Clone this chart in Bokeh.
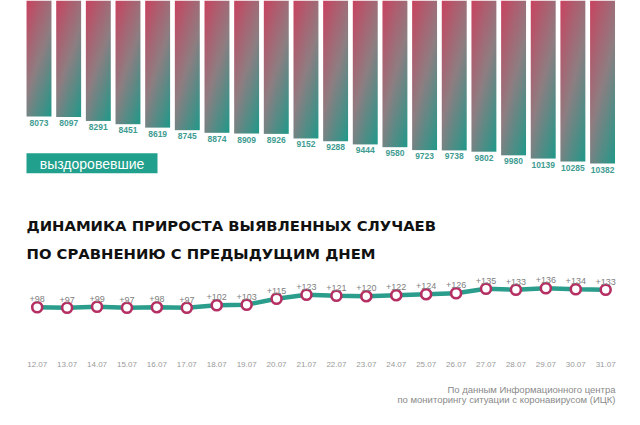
import numpy as np
from bokeh.plotting import figure
from bokeh.models import Range1d, Label, BoxAnnotation, ColumnDataSource
from bokeh.core.properties import value
from bokeh.embed import file_html
from bokeh.resources import INLINE

# ---------------- data ----------------
recovered = [8073, 8097, 8291, 8451, 8619, 8745, 8874, 8909, 8926, 9152,
             9288, 9444, 9580, 9723, 9738, 9802, 9980, 10139, 10285, 10382]
dates = ["12.07", "13.07", "14.07", "15.07", "16.07", "17.07", "18.07", "19.07",
         "20.07", "21.07", "22.07", "23.07", "24.07", "25.07", "26.07", "27.07",
         "28.07", "29.07", "30.07", "31.07"]
growth = [98, 97, 99, 97, 98, 97, 102, 103, 115, 123,
          121, 120, 122, 124, 126, 135, 133, 136, 134, 133]
bar_legend = "выздоровевшие"
title_lines = ["ДИНАМИКА ПРИРОСТА ВЫЯВЛЕННЫХ СЛУЧАЕВ",
               "ПО СРАВНЕНИЮ С ПРЕДЫДУЩИМ ДНЕМ"]
source_lines = ["По данным Информационного центра",
                "по мониторингу ситуации с коронавирусом (ИЦК)"]

# ---------------- layout ----------------
W, H = 624, 409
X0, X1 = -1.298, 19.74
Y_BOT, Y_TOP = 22467.0, 2374.0
LX0, LX1 = -1.2266, 19.629
LY0, LY1 = -106.6, 711.4

def xd(px):
    return X0 + px / W * (X1 - X0)

def yd(py):
    return Y_TOP + py / H * (Y_BOT - Y_TOP)

def lyd(py):
    return LY1 - py / H * (LY1 - LY0)

p = figure(width=W, height=H, x_range=Range1d(X0, X1), y_range=Range1d(Y_BOT, Y_TOP),
           output_backend="svg", toolbar_location=None, min_border=0,
           x_axis_location=None, y_axis_location=None)
p.extra_x_ranges = {"lx": Range1d(LX0, LX1)}
p.extra_y_ranges = {"ly": Range1d(LY0, LY1)}
p.grid.visible = False
p.outline_line_color = None
p.background_fill_color = "white"
p.border_fill_color = "white"

# ---------------- gradient bars ----------------
pink = np.array([200, 69, 97], dtype=float)
mid = np.array([143, 126, 130], dtype=float)
teal = np.array([30, 154, 138], dtype=float)

def grad_img(nrows=80, ncols=24):
    u = np.linspace(0, 1, ncols)[None, :]
    v = np.linspace(0, 1, nrows)[:, None]
    t = np.clip(0.38 * u + 0.62 * v, 0, 1)
    t2 = np.clip(t * 2, 0, 1)[..., None]
    t3 = np.clip(t * 2 - 1, 0, 1)[..., None]
    col = np.where(t[..., None] < 0.5, pink + (mid - pink) * t2, mid + (teal - mid) * t3)
    img = np.empty((nrows, ncols), dtype=np.uint32)
    view = img.view(dtype=np.uint8).reshape((nrows, ncols, 4))
    view[..., 0] = col[..., 0]
    view[..., 1] = col[..., 1]
    view[..., 2] = col[..., 2]
    view[..., 3] = 255
    return img

bw = 0.84
imgs = [grad_img() for _ in recovered]
p.image_rgba(image=imgs, x=[i - bw / 2 for i in range(len(recovered))],
             y=[Y_TOP] * len(recovered), dw=[bw] * len(recovered),
             dh=[v - Y_TOP for v in recovered])

bsrc = ColumnDataSource(dict(x=list(range(len(recovered))), y=recovered,
                             t=[str(v) for v in recovered]))
p.text(x="x", y="y", text="t", source=bsrc, text_align="center", text_baseline="top",
       y_offset=3, text_font=value("Liberation Sans"), text_font_style="bold",
       text_font_size="8.5px", text_color="#3f9c92")

# legend box
p.add_layout(BoxAnnotation(left=xd(26), right=xd(157), top=yd(152.7), bottom=yd(172.7),
                           fill_color="#21a08d", fill_alpha=1, line_color=None))
p.add_layout(Label(x=xd(91.5), y=yd(163), text=bar_legend, text_align="center",
                   text_baseline="middle", text_color="white", text_font_size="14px",
                   text_font="Liberation Sans"))

# title
for i, (line, base) in enumerate(zip(title_lines, [225.0, 252.5])):
    p.add_layout(Label(x=xd(26), y=yd(base), text=line, text_align="left",
                       text_baseline="alphabetic", text_color="#111111",
                       text_font_size="14.8px", text_font_style="bold",
                       text_font="DejaVu Sans"))

# ---------------- line chart ----------------
lsrc = ColumnDataSource(dict(x=list(range(len(growth))), y=growth,
                             t=["+" + str(v) for v in growth],
                             d=dates, dy=[lyd(364)] * len(growth)))
p.line(x="x", y="y", source=lsrc, x_range_name="lx", y_range_name="ly",
       line_color="#2a9d8c", line_width=4.5)
p.scatter(x="x", y="y", source=lsrc, x_range_name="lx", y_range_name="ly",
          size=10, fill_color="white", line_color="#b52f63", line_width=2.6)
p.text(x="x", y="y", text="t", source=lsrc, x_range_name="lx", y_range_name="ly",
       text_align="center", text_baseline="alphabetic", y_offset=-8,
       text_font_size="9px", text_color="#808080", text_font=value("Liberation Sans"))
p.text(x="x", y="dy", text="d", source=lsrc, x_range_name="lx", y_range_name="ly",
       text_align="center", text_baseline="middle",
       text_font_size="8px", text_color="#9a9a9a", text_font=value("Liberation Sans"))

# source note
for line, base in zip(source_lines, [389, 399]):
    p.add_layout(Label(x=xd(615), y=yd(base), text=line, text_align="right",
                       text_baseline="middle", text_color="#8a8a8a",
                       text_font_size="9.5px", text_font="Liberation Sans"))

open("out.html", "w").write(file_html(p, INLINE))
